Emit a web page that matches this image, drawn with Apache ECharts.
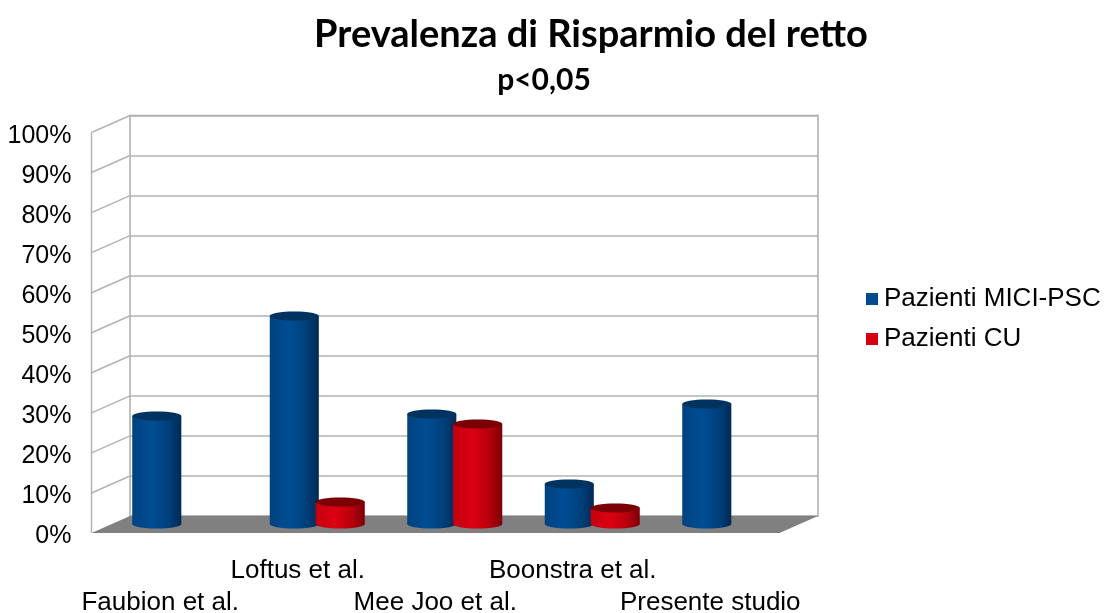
<!DOCTYPE html>
<html>
<head>
<meta charset="utf-8">
<script src="https://cdn.jsdelivr.net/npm/echarts@6/dist/echarts.min.js"></script>
<style>
  html, body { margin: 0; padding: 0; background: #ffffff; }
  #chart { width: 1117px; height: 613px; }
</style>
</head>
<body>
<div id="chart"></div>
<script>
// ---- Data ----
const categories = ['Faubion et al.', 'Loftus et al.', 'Mee Joo et al.', 'Boonstra et al.', 'Presente studio'];
const miciPsc = [27, 52, 27.5, 10, 30];
const cu = [null, 5.5, 25, 4, null];
const seriesNames = ['Pazienti MICI-PSC', 'Pazienti CU'];
const tickValues = [0, 10, 20, 30, 40, 50, 60, 70, 80, 90, 100];
const titleText = 'Prevalenza di Risparmio del retto';
const subtitleText = 'p<0,05';

// ---- Styles ----
const DEPTH = [-38.5, 17];
const FONT = 'Liberation Sans, Arial, sans-serif';
const palettes = [
  { legend: '#004a8d', top: '#00335f', stops: ['#00427f', '#004d94', '#003f7a', '#002a55'] },
  { legend: '#d40012', top: '#7a0005', stops: ['#c4000e', '#dc0012', '#b5000c', '#7a0008'] }
];

const chart = echarts.init(document.getElementById('chart'));

function toPairs(arr) {
  const out = [];
  arr.forEach((v, i) => { if (v !== null && v !== undefined) out.push([i, v]); });
  return out;
}

function cylinderRenderer(sIdx) {
  const pal = palettes[sIdx];
  const offset = sIdx === 0 ? -0.167 : 0.167;
  return function (params, api) {
    const i = api.value(0), v = api.value(1);
    const top = api.coord([i, v]);
    const base = api.coord([i, 0]);
    const band = api.size([1, 0])[0];
    const w = band * 0.357;
    const cx = top[0] + offset * band;
    const ry = 4.5;
    const grad = new echarts.graphic.LinearGradient(0, 0, 1, 0, [
      { offset: 0, color: pal.stops[0] },
      { offset: 0.4, color: pal.stops[1] },
      { offset: 0.75, color: pal.stops[2] },
      { offset: 1, color: pal.stops[3] }
    ]);
    return {
      type: 'group',
      children: [
        { type: 'ellipse', shape: { cx: cx, cy: base[1], rx: w / 2, ry: ry }, style: { fill: grad } },
        { type: 'rect', shape: { x: cx - w / 2, y: top[1], width: w, height: base[1] - top[1] }, style: { fill: grad } },
        { type: 'ellipse', shape: { cx: cx, cy: top[1], rx: w / 2, ry: ry }, style: { fill: pal.top } }
      ]
    };
  };
}

function wallRenderer(params, api) {
  const cs = params.coordSys;
  const x = cs.x, y = cs.y, w = cs.width, h = cs.height;
  const dx = DEPTH[0], dy = DEPTH[1];
  const children = [];
  children.push({
    type: 'polygon',
    shape: { points: [[x, y + h], [x + w, y + h], [x + w + dx, y + h + dy], [x + dx, y + h + dy]] },
    style: { fill: '#808080' }
  });
  tickValues.forEach(t => {
    if (t === 0) return;
    const yy = api.coord([0, t])[1];
    children.push({
      type: 'line',
      shape: { x1: x, y1: yy, x2: x + dx, y2: yy + dy },
      style: { stroke: '#b3b3b3', lineWidth: 1.5 }
    });
  });
  children.push({
    type: 'line',
    shape: { x1: x + dx, y1: y + dy, x2: x + dx, y2: y + h + dy },
    style: { stroke: '#b3b3b3', lineWidth: 1.5 }
  });
  return { type: 'group', children: children };
}

const option = {
  backgroundColor: '#ffffff',
  animation: false,
  title: [
    { text: titleText, left: 586, top: 11, textAlign: 'center',
      textStyle: { fontFamily: 'Lato', fontWeight: 'bold', fontSize: 38, color: '#000' } },
    { text: subtitleText, left: 539, top: 60, textAlign: 'center',
      textStyle: { fontFamily: 'Lato', fontWeight: 'bold', fontSize: 30, color: '#000' } }
  ],
  legend: {
    orient: 'vertical',
    left: 861, top: 281,
    itemWidth: 12, itemHeight: 12, itemGap: 14,
    icon: 'rect',
    data: seriesNames,
    textStyle: { fontFamily: FONT, fontSize: 26, color: '#000', padding: [0, 0, 0, 1] }
  },
  grid: [
    // back wall
    { left: 130, right: 299, top: 115.5, bottom: 97, outerBoundsMode: 'none', containLabel: false,
      show: true, borderColor: '#aaaaaa', borderWidth: 1.5, backgroundColor: 'transparent' },
    // front plane (labels)
    { left: 91.5, right: 338, top: 136, bottom: 77, outerBoundsMode: 'none', containLabel: false },
    // mid depth (cylinders)
    { left: 111, right: 318.5, top: 124, bottom: 89, outerBoundsMode: 'none', containLabel: false }
  ],
  xAxis: [
    { type: 'category', gridIndex: 0, data: categories, axisLine: { show: false }, axisTick: { show: false }, axisLabel: { show: false } },
    { type: 'category', gridIndex: 1, data: categories, axisLine: { show: false }, axisTick: { show: false },
      axisLabel: { interval: 0, fontFamily: FONT, fontSize: 26, color: '#000', lineHeight: 32, margin: 19,
        formatter: (val, idx) => (idx % 2 ? val + '\n' : '\n' + val) } },
    { type: 'category', gridIndex: 2, data: categories, show: false }
  ],
  yAxis: [
    { type: 'value', gridIndex: 0, min: 0, max: 100, interval: 10, axisLabel: { show: false },
      axisLine: { show: false }, axisTick: { show: false },
      splitLine: { show: true, lineStyle: { color: '#b3b3b3', width: 1.5 } } },
    { type: 'value', gridIndex: 1, min: 0, max: 100, interval: 10, splitLine: { show: false },
      axisLine: { show: false }, axisTick: { show: false },
      axisLabel: { formatter: '{value}%', fontFamily: FONT, fontSize: 25, color: '#000', margin: 20 } },
    { type: 'value', gridIndex: 2, min: 0, max: 100, interval: 10, show: false, splitLine: { show: false } }
  ],
  series: [
    { type: 'custom', name: 'walls', xAxisIndex: 0, yAxisIndex: 0, z: 1, silent: true,
      data: [[0, 0]], renderItem: wallRenderer },
    { type: 'custom', name: seriesNames[0], xAxisIndex: 2, yAxisIndex: 2, z: 3,
      itemStyle: { color: palettes[0].legend },
      data: toPairs(miciPsc), encode: { x: 0, y: 1 }, renderItem: cylinderRenderer(0) },
    { type: 'custom', name: seriesNames[1], xAxisIndex: 2, yAxisIndex: 2, z: 4,
      itemStyle: { color: palettes[1].legend },
      data: toPairs(cu), encode: { x: 0, y: 1 }, renderItem: cylinderRenderer(1) }
  ]
};
chart.setOption(option);
</script>
</body>
</html>
